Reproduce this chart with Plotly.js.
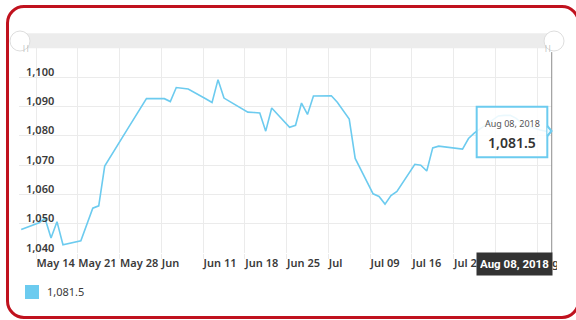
<!DOCTYPE html>
<html>
<head>
<meta charset="utf-8">
<script src="https://cdn.plot.ly/plotly-3.0.1.min.js"></script>
<style>
  html, body { margin: 0; padding: 0; background: #ffffff; }
  #wrap { position: relative; width: 576px; height: 320px; overflow: hidden; }
  #chart { position: absolute; left: 0; top: 0; width: 576px; height: 320px; }
  #card { position: absolute; left: 6px; top: 5px; width: 568px; height: 308px;
          border: 3px solid #c0121e; border-radius: 18px; pointer-events: none; }
</style>
</head>
<body>
<div id="wrap">
  <div id="chart"></div>
  <div id="card"></div>
</div>
<script>
// ---- data ----
const dates = [
  '2018-05-11','2018-05-14','2018-05-15','2018-05-16','2018-05-17','2018-05-18',
  '2018-05-21','2018-05-22','2018-05-23','2018-05-24','2018-05-25',
  '2018-05-29','2018-05-30','2018-05-31','2018-06-01',
  '2018-06-04','2018-06-05','2018-06-06','2018-06-07','2018-06-08',
  '2018-06-11','2018-06-12','2018-06-13','2018-06-14','2018-06-15',
  '2018-06-18','2018-06-19','2018-06-20','2018-06-21','2018-06-22',
  '2018-06-25','2018-06-26','2018-06-27','2018-06-28','2018-06-29',
  '2018-07-02','2018-07-03','2018-07-05','2018-07-06',
  '2018-07-09','2018-07-10','2018-07-11','2018-07-12','2018-07-13',
  '2018-07-16','2018-07-17','2018-07-18','2018-07-19','2018-07-20',
  '2018-07-23','2018-07-24','2018-07-25','2018-07-26','2018-07-27',
  '2018-07-30','2018-07-31','2018-08-01','2018-08-02','2018-08-03',
  '2018-08-06','2018-08-07','2018-08-08'
];
const values = [
  1048.0, 1050.3, 1051.8, 1045.1, 1050.7, 1042.8,
  1044.2, 1049.5, 1055.3, 1056.1, 1069.7,
  1082.9, 1086.3, 1089.5, 1092.7,
  1092.7, 1091.7, 1096.5, 1096.3, 1096.0,
  1092.6, 1091.4, 1099.2, 1092.9, 1091.7,
  1088.1, 1088.0, 1087.8, 1081.6, 1089.5,
  1082.9, 1083.6, 1091.2, 1087.3, 1093.6,
  1093.7, 1091.5, 1085.7, 1072.3,
  1060.2, 1059.3, 1056.7, 1059.6, 1061.0,
  1070.3, 1070.0, 1068.0, 1075.9, 1076.5,
  1075.9, 1075.5, 1079.1, 1081.0, 1082.5,
  1086.8, 1087.0, 1087.0, 1086.0, 1084.0,
  1082.0, 1081.6, 1081.5
];
const xTickVals = ['2018-05-14','2018-05-21','2018-05-28','2018-06-04','2018-06-11','2018-06-18',
  '2018-06-25','2018-07-02','2018-07-09','2018-07-16','2018-07-23','2018-07-30','2018-08-06'];
const xTickText = ['May 14','May 21','May 28','Jun','Jun 11','Jun 18',
  'Jun 25','Jul','Jul 09','Jul 16','Jul 23','Jul 30','Aug 06'];
const yTickVals = [1040, 1050, 1060, 1070, 1080, 1090, 1100];
const yTickText = ['1,040','1,050','1,060','1,070','1,080','1,090','1,100'];
const lastLabelDate = 'Aug 08, 2018';

// ---- styling ----
const lineColor = '#6ccbef';
const fontFam = '"Noto Sans", Roboto, sans-serif';
const tickFont = {family: fontFam, size: 11, color: '#3a3a3a', weight: 600};
const xs = dates.map(d => d + ' 12:00');
const lastVal = values[values.length - 1];
const lastValText = lastVal.toLocaleString('en-US', {minimumFractionDigits: 1, maximumFractionDigits: 1});

const trace = {
  x: xs, y: values, type: 'scatter', mode: 'lines',
  line: {color: lineColor, width: 1.6},
  hoverinfo: 'skip', showlegend: false
};

// y tick labels drawn on the y scale, sitting just above each gridline
const yLabelAnns = yTickVals.map((v, i) => ({
  xref: 'paper', yref: 'y', x: 0, y: v, text: yTickText[i], showarrow: false,
  xanchor: 'left', yanchor: 'middle', xshift: 5, yshift: 6,
  font: tickFont
}));

const layout = {
  width: 576, height: 320,
  margin: {l: 19, r: 24, t: 48, b: 67},
  paper_bgcolor: 'rgba(0,0,0,0)',
  plot_bgcolor: '#ffffff',
  hovermode: false,
  showlegend: false,
  xaxis: {
    type: 'date',
    range: ['2018-05-11 03:07', '2018-08-08 12:00'],
    tickmode: 'array', tickvals: xTickVals, ticktext: xTickText,
    ticklabelposition: 'outside right',
    tickangle: 0,
    ticks: 'outside', ticklen: 5, tickcolor: '#ebebeb',
    showgrid: true, gridcolor: '#ebebeb', gridwidth: 1,
    zeroline: false, showline: false,
    tickfont: tickFont
  },
  yaxis: {
    range: [1040, 1110],
    tickmode: 'array', tickvals: yTickVals,
    showticklabels: false,
    ticks: '',
    showgrid: true, gridcolor: '#ebebeb', gridwidth: 1,
    zeroline: false, showline: false
  },
  shapes: [
    {type: 'rect', xref: 'paper', yref: 'paper', x0: 0.0019, x1: 1.0038, y0: 0.9985, y1: 1.0717,
     fillcolor: '#ececec', line: {width: 0}, layer: 'above'},
    {type: 'line', xref: 'paper', yref: 'paper', x0: 0.9995, x1: 0.9995, y0: 0, y1: 0.98,
     line: {color: '#8c8c8c', width: 1}, layer: 'above'},
    {type: 'circle', xref: 'paper', yref: 'paper', xsizemode: 'pixel', ysizemode: 'pixel',
     xanchor: 0.0019, yanchor: 1.0341, x0: -10, x1: 10, y0: -10, y1: 10,
     fillcolor: '#ffffff', line: {color: '#dedede', width: 1}, layer: 'above'},
    {type: 'circle', xref: 'paper', yref: 'paper', xsizemode: 'pixel', ysizemode: 'pixel',
     xanchor: 1.0038, yanchor: 1.0341, x0: -10, x1: 10, y0: -10, y1: 10,
     fillcolor: '#ffffff', line: {color: '#dedede', width: 1}, layer: 'above'},
    {type: 'rect', xref: 'paper', yref: 'paper', x0: 0.8587, x1: 0.9912, y0: 0.4668, y1: 0.7137,
     fillcolor: 'rgba(255,255,255,0.86)', line: {color: lineColor, width: 2}, layer: 'above'},
    {type: 'path', xref: 'paper', yref: 'paper',
     path: 'M 0.9912 0.6195 L 0.9991 0.5951 L 0.9912 0.5707',
     fillcolor: 'rgba(255,255,255,0.86)', line: {color: lineColor, width: 2}, layer: 'above'},
    // chart container edge clips the last tick label
    {type: 'rect', xref: 'paper', yref: 'paper', x0: 1.0094, x1: 1.046, y0: -0.0098, y1: -0.112,
     fillcolor: '#ffffff', line: {width: 0}, layer: 'above'},
    {type: 'rect', xref: 'paper', yref: 'paper', x0: 0.0113, x1: 0.0375, y0: -0.2244, y1: -0.1561,
     fillcolor: lineColor, line: {width: 0}}
  ],
  annotations: yLabelAnns.concat([
    {xref: 'paper', yref: 'paper', x: 0.0019, y: 1.0341, text: '||', showarrow: false,
     font: {family: fontFam, size: 7, color: '#aaaaaa'}},
    {xref: 'paper', yref: 'paper', x: 1.0038, y: 1.0341, text: '||', showarrow: false,
     font: {family: fontFam, size: 7, color: '#aaaaaa'}},
    {xref: 'paper', yref: 'paper', x: 0.925, y: 0.6293, text: lastLabelDate, showarrow: false,
     xanchor: 'center', yanchor: 'middle',
     font: {family: fontFam, size: 9, color: '#555555'}},
    {xref: 'paper', yref: 'paper', x: 0.925, y: 0.539, text: lastValText, showarrow: false,
     xanchor: 'center', yanchor: 'middle',
     font: {family: fontFam, size: 14, color: '#333333', weight: 600}},
    {xref: 'paper', yref: 'paper', x: 1.0019, y: -0.0537, text: '<b>' + lastLabelDate + '</b>', showarrow: false,
     xanchor: 'right', yanchor: 'middle', height: 16, borderpad: 3,
     bgcolor: '#333333', font: {family: 'Roboto, sans-serif', size: 11.5, color: '#ffffff'}},
    {xref: 'paper', yref: 'paper', x: 0.0488, y: -0.190, text: lastValText, showarrow: false,
     xanchor: 'left', yanchor: 'middle',
     font: {family: fontFam, size: 11, color: '#3a3a3a'}}
  ])
};

Plotly.newPlot('chart', [trace], layout, {displayModeBar: false, staticPlot: true});
</script>
</body>
</html>
